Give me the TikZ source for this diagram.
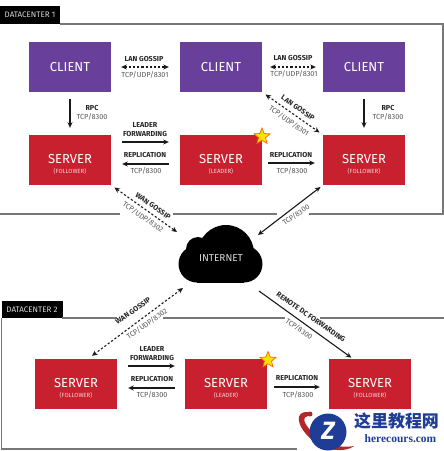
\documentclass[tikz,border=0pt]{standalone}
\usepackage{fontspec}
\setmainfont{Fira Sans}
\newfontfamily\cjkfont{Noto Sans CJK SC}
\newfontfamily\markfont{Liberation Serif}
\usetikzlibrary{arrows.meta,shapes.geometric}

\definecolor{clientpurple}{HTML}{68409B}
\definecolor{serverred}{HTML}{C9202F}
\definecolor{framegray}{HTML}{777777}
\definecolor{portgray}{HTML}{555555}
\definecolor{markblue}{HTML}{1F3C96}
\definecolor{markred}{HTML}{B5262B}

\begin{document}
\begin{tikzpicture}[
  x=1pt, y=-1pt,
  >={Stealth[length=5.5pt,width=5pt]},
  box/.style={minimum width=82pt, minimum height=50pt, inner sep=0pt, text=white, font=\fontsize{13}{14}\selectfont},
  clientbox/.style={box, fill=clientpurple},
  serverbox/.style={box, fill=serverred},
  role/.style={text=white!80!serverred, font=\fontsize{6}{6}\selectfont, inner sep=0pt},
  tab/.style={fill=black, text=white!85!black, inner sep=0pt, font=\fontsize{8}{9}\selectfont},
  lbl/.style={inner sep=0pt, text=black!85, font=\bfseries\fontsize{7.2}{8}\selectfont},
  port/.style={inner sep=0pt, text=portgray, font=\fontsize{7.3}{8}\selectfont},
  frameline/.style={framegray, line width=1.2pt},
  link/.style={<->, line width=1.1pt, black!90},
  gossip/.style={link, dash pattern=on 2.2pt off 2pt},
  oneway/.style={->, line width=1.1pt, black!90},
  leaderstar/.style={star, star points=5, star point ratio=2.3, minimum size=17pt, inner sep=0pt, fill=yellow!85!orange, draw=orange!80!red, line width=0.7pt}
]
  \useasboundingbox (0,0) rectangle (444,451);

  % datacenter 1 frame
  \node[tab, minimum width=60pt, minimum height=18pt] (dcone) at (30,15) {DATACENTER 1};
  \draw[frameline] (60,24) -- (443,24) -- (443,214) -- (309,214);
  \draw[frameline] (277,214) -- (173,214);
  \draw[frameline] (120,214) -- (0,214);

  % datacenter 2 frame
  \node[tab, minimum width=61pt, minimum height=17pt] (dctwo) at (32,309.5) {DATACENTER 2};
  \draw[frameline] (62,318) -- (117,318);
  \draw[frameline] (163,318) -- (285,318);
  \draw[frameline] (320,318) -- (444,318);
  \draw[frameline] (1.5,318) -- (1.5,449) -- (297,449);

  % datacenter 1 boxes
  \node[clientbox] (client1) at (70,67) {CLIENT};
  \node[clientbox] (client2) at (221,67) {CLIENT};
  \node[clientbox] (client3) at (364,67) {CLIENT};
  \node[serverbox] (server1) at (70,160) {\raisebox{2pt}{SERVER}};
  \node[serverbox] (server2) at (221,160) {\raisebox{2pt}{SERVER}};
  \node[serverbox] (server3) at (364,160) {\raisebox{2pt}{SERVER}};
  \node[role] (role1) at (70,171) {(FOLLOWER)};
  \node[role] (role2) at (221,171) {(LEADER)};
  \node[role] (role3) at (364,171) {(FOLLOWER)};
  \node[leaderstar] (star1) at (262,136.5) {};

  % datacenter 2 boxes
  \node[serverbox] (server4) at (76,384) {\raisebox{2pt}{SERVER}};
  \node[serverbox] (server5) at (226,384) {\raisebox{2pt}{SERVER}};
  \node[serverbox] (server6) at (370,384) {\raisebox{2pt}{SERVER}};
  \node[role] (role4) at (76,395) {(FOLLOWER)};
  \node[role] (role5) at (226,395) {(LEADER)};
  \node[role] (role6) at (370,395) {(FOLLOWER)};
  \node[leaderstar] (star2) at (268,360) {};

  % cloud
  \fill[black] (197,264) circle (18.5);
  \fill[black] (198,249) circle (12);
  \fill[black] (226,253) circle (28);
  \fill[black] (244,264) circle (18.5);
  \fill[black] (197,262) rectangle (244,282.5);
  \node[inner sep=0pt, text=white!85!black, font=\fontsize{10}{11}\selectfont] (internet) at (221,258) {INTERNET};
  \coordinate (cloudnw) at (177,232);
  \coordinate (cloudne) at (258,235);
  \coordinate (cloudsw) at (183,288);
  \coordinate (cloudse) at (259,291);

  % lan gossip
  \draw[gossip, shorten <=10pt, shorten >=11pt] (client1) -- (client2);
  \draw[gossip, shorten <=8pt, shorten >=7pt] (client2) -- (client3);
  \draw[gossip, shorten <=4pt, shorten >=4pt] (client2.south east) -- (server3.north west);
  \node[lbl] (lan1) at (144,59) {LAN GOSSIP};
  \node[port] (lanport1) at (145,75) {TCP/UDP/8301};
  \node[lbl] (lan2) at (293,58) {LAN GOSSIP};
  \node[port] (lanport2) at (294,74) {TCP/UDP/8301};
  \node[lbl, rotate=-35] (lan3) at (298,108) {LAN GOSSIP};
  \node[port, rotate=-35] (lanport3) at (289,121) {TCP/UDP/8301};

  % rpc
  \draw[oneway, shorten <=7pt, shorten >=7pt] (client1) -- (server1);
  \draw[oneway, shorten <=7pt, shorten >=7pt] (client3) -- (server3);
  \node[lbl] (rpc1) at (92,108) {RPC};
  \node[port] (rpcport1) at (92,117) {TCP/8300};
  \node[lbl] (rpc2) at (388,108) {RPC};
  \node[port] (rpcport2) at (388,117) {TCP/8300};

  % forwarding and replication, datacenter 1
  \draw[oneway, shorten <=11pt, shorten >=11pt] ([yshift=18pt]server1.east) -- ([yshift=18pt]server2.west);
  \draw[oneway, shorten <=11pt, shorten >=11pt] ([yshift=-4pt]server2.west) -- ([yshift=-4pt]server1.east);
  \draw[oneway, shorten <=6pt, shorten >=8pt] ([yshift=-3pt]server2.east) -- ([yshift=-3pt]server3.west);
  \node[lbl] (lead1) at (145,125) {LEADER};
  \node[lbl] (forw1) at (145,134) {FORWARDING};
  \node[lbl] (repl1) at (145,155) {REPLICATION};
  \node[port] (replport1) at (146,171) {TCP/8300};
  \node[lbl] (repl2) at (291,155) {REPLICATION};
  \node[port] (replport2) at (292,171) {TCP/8300};

  % forwarding and replication, datacenter 2
  \draw[oneway, shorten <=11pt, shorten >=10pt] ([yshift=18pt]server4.east) -- ([yshift=18pt]server5.west);
  \draw[oneway, shorten <=10pt, shorten >=11pt] ([yshift=-4pt]server5.west) -- ([yshift=-4pt]server4.east);
  \draw[oneway, shorten <=7pt, shorten >=9pt] ([yshift=-3pt]server5.east) -- ([yshift=-3pt]server6.west);
  \node[lbl] (lead2) at (152,349) {LEADER};
  \node[lbl] (forw2) at (152,358) {FORWARDING};
  \node[lbl] (repl3) at (152,379) {REPLICATION};
  \node[port] (replport3) at (152,395) {TCP/8300};
  \node[lbl] (repl4) at (297,378) {REPLICATION};
  \node[port] (replport4) at (298,395) {TCP/8300};

  % wan gossip
  \draw[gossip, shorten <=4pt] (server1.south east) -- (cloudnw);
  \draw[gossip, shorten >=5pt] (cloudsw) -- ([xshift=12pt]server4.north);
  \node[lbl, rotate=-35] (wan1) at (153,206) {WAN GOSSIP};
  \node[port, rotate=-35] (wanport1) at (143,217) {TCP/UDP/8302};
  \node[lbl, rotate=35] (wan2) at (133,311) {WAN GOSSIP};
  \node[port, rotate=35] (wanport2) at (147,324) {TCP/UDP/8302};

  % internet links
  \draw[link, shorten <=3pt] (server3.south west) -- (cloudne);
  \node[port, rotate=35] (netport) at (296,215) {TCP/8300};
  \draw[oneway, shorten >=2pt] (cloudse) -- ([xshift=-17pt]server6.north);
  \node[lbl, rotate=-35] (remote) at (311,317) {REMOTE DC FORWARDING};
  \node[port, rotate=-35] (remoteport) at (299,329) {TCP/8300};

  % site mark
  \fill[markred] (308,412) .. controls (295,411) and (295,425) .. (312,440) .. controls (325,451) and (345,453) .. (354,446) .. controls (340,449) and (322,443) .. (311,431) .. controls (303,422) and (302,417) .. (308,416) -- cycle;
  \fill[markred] (310,414) circle (2.5);
  \fill[markblue] (328,432) circle (18.5);
  \node[inner sep=0pt, text=white, font=\bfseries\itshape\fontsize{25}{25}\selectfont] (markz) at (328,431) {Z};
  \node[inner sep=0pt, text=markblue, font=\cjkfont\bfseries\fontsize{17}{18}\selectfont] (marktitle) at (396.5,421) {这里教程网};
  \node[inner sep=0pt, text=markblue, font=\markfont\bfseries\fontsize{11.5}{12}\selectfont] (markurl) at (400.5,439) {herecours.com};
\end{tikzpicture}
\end{document}
